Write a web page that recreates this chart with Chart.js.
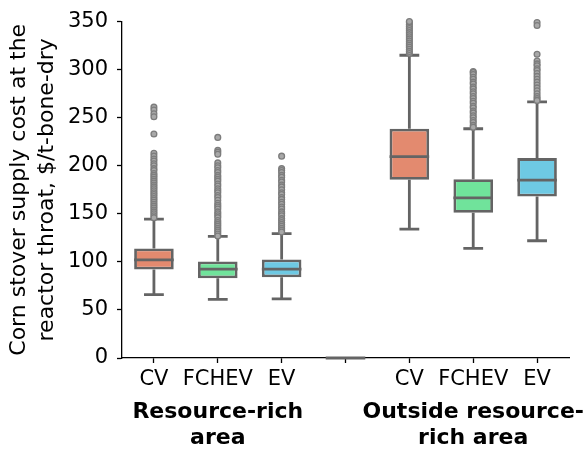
<!DOCTYPE html>
<html>
<head>
<meta charset="utf-8">
<script src="https://cdn.jsdelivr.net/npm/chart.js@4"></script>
<style>
html,body{margin:0;padding:0;background:#fff;}
canvas{display:block;}
</style>
</head>
<body>
<canvas id="c" width="588" height="449"></canvas>
<script>
const categories = ['CV', 'FCHEV', 'EV', '', 'CV', 'FCHEV', 'EV'];
const categoryKeys = ['rich-CV', 'rich-FCHEV', 'rich-EV', 'gap', 'out-CV', 'out-FCHEV', 'out-EV'];
const q1 = [92, 83, 84, 0, 185.5, 151, 168];
const q3 = [114, 100.5, 102.5, 0, 238.5, 186, 208];
const medians = [102, 92.5, 92.5, 0, 209.5, 166.5, 185];
const whiskerLow = [66, 61, 61.5, 0, 134, 114, 122];
const whiskerHigh = [144.5, 126.5, 129.5, 0, 315, 238.5, 266.5];
const outliers0 = [261, 258, 254, 251, 233, 213, 210, 207, 205, 202, 200, 197, 195, 192, 190, 188, 186, 184, 182, 180, 178, 176, 174, 172, 170, 168, 166, 164, 162, 160, 158, 156, 154, 152, 150, 148, 146];
const outliers1 = [229.5, 216, 214, 212, 203, 200, 198, 195, 193, 190, 188, 186, 184, 181, 179, 176, 174, 172, 169, 167, 164, 161, 159, 157, 155, 152, 150, 148, 146, 143, 141, 139, 137, 135, 133, 131, 129, 127];
const outliers2 = [210, 197, 195, 193, 190, 188, 185, 183, 180, 178, 175, 172, 170, 167, 165, 162, 160, 157, 155, 152, 150, 148, 145, 143, 141, 139, 137, 135, 133, 131];
const outliers3 = [];
const outliers4 = [317, 319, 321, 323, 325, 327, 329, 331, 333, 335, 337, 339, 341, 343, 345, 347, 349, 350];
const outliers5 = [298, 297, 295, 292, 290, 287, 285, 282, 280, 277, 275, 272, 270, 267, 265, 262, 260, 257, 255, 252, 250, 247, 245, 242, 240];
const outliers6 = [349, 346, 316, 309, 306, 304, 301, 299, 296, 293, 290, 287, 284, 281, 278, 275, 272, 270, 268];
const outlierLists = [outliers0, outliers1, outliers2, outliers3, outliers4, outliers5, outliers6];
const boxColors = ['#e38a6f', '#70e39b', '#6ec9e3', '#ffffff', '#e38a6f', '#70e39b', '#6ec9e3'];
const groupLabels = [['Resource-rich', 'area'], ['Outside resource-', 'rich area']];
const groupSpans = [[0, 2], [4, 6]];
const yTitle = ['Corn stover supply cost at the', 'reactor throat, $/t-bone-dry'];

const LINE = '#646464';
const LW = 2.8;
const FONT = 'DejaVu Sans';

const boxData = q1.map((v, i) => [v, q3[i]]);
const outlierData = [];
outlierLists.forEach((list, i) => list.forEach(v => outlierData.push({x: categoryKeys[i], y: v})));

const boxPlugin = {
  id: 'boxParts',
  beforeDatasetsDraw(chart) {
    const ctx = chart.ctx;
    const y = chart.scales.y;
    const meta = chart.getDatasetMeta(0);
    ctx.save();
    ctx.strokeStyle = LINE;
    ctx.lineWidth = LW;
    meta.data.forEach((bar, i) => {
      if (q3[i] === q1[i]) return;
      const cx = bar.x;
      const cap = bar.width * 0.5;
      ctx.beginPath();
      ctx.moveTo(cx, y.getPixelForValue(whiskerLow[i]));
      ctx.lineTo(cx, y.getPixelForValue(q1[i]));
      ctx.moveTo(cx, y.getPixelForValue(q3[i]));
      ctx.lineTo(cx, y.getPixelForValue(whiskerHigh[i]));
      ctx.moveTo(cx - cap / 2, y.getPixelForValue(whiskerLow[i]));
      ctx.lineTo(cx + cap / 2, y.getPixelForValue(whiskerLow[i]));
      ctx.moveTo(cx - cap / 2, y.getPixelForValue(whiskerHigh[i]));
      ctx.lineTo(cx + cap / 2, y.getPixelForValue(whiskerHigh[i]));
      ctx.stroke();
    });
    ctx.restore();
  },
  afterDatasetsDraw(chart) {
    const ctx = chart.ctx;
    const y = chart.scales.y;
    const meta = chart.getDatasetMeta(0);
    ctx.save();
    ctx.strokeStyle = LINE;
    ctx.lineWidth = LW;
    meta.data.forEach((bar, i) => {
      const py = y.getPixelForValue(medians[i]);
      ctx.beginPath();
      ctx.moveTo(bar.x - bar.width / 2, py);
      ctx.lineTo(bar.x + bar.width / 2, py);
      ctx.stroke();
    });
    ctx.restore();
  },
  afterDraw(chart) {
    const ctx = chart.ctx;
    const x = chart.scales.x;
    ctx.save();
    ctx.fillStyle = '#000';
    ctx.font = 'bold 22px ' + FONT;
    ctx.textAlign = 'center';
    ctx.textBaseline = 'alphabetic';
    groupLabels.forEach((lines, g) => {
      const cx = (x.getPixelForValue(groupSpans[g][0]) + x.getPixelForValue(groupSpans[g][1])) / 2;
      lines.forEach((t, k) => ctx.fillText(t, cx, 418 + k * 26));
    });
    ctx.restore();
  }
};

new Chart(document.getElementById('c'), {
  type: 'bar',
  data: {
    labels: categoryKeys,
    datasets: [
      {
        type: 'bar',
        data: boxData,
        backgroundColor: boxColors,
        borderColor: LINE,
        borderWidth: LW,
        borderSkipped: false,
        grouped: false,
        barPercentage: 0.62,
        categoryPercentage: 1,
        order: 2
      },
      {
        type: 'line',
        data: outlierData,
        showLine: false,
        pointRadius: 2.9,
        pointBackgroundColor: '#a8a8a8',
        pointBorderColor: '#7c7c7c',
        pointBorderWidth: 1.3,
        clip: 4,
        order: 1
      }
    ]
  },
  options: {
    responsive: false,
    animation: false,
    devicePixelRatio: 1,
    layout: {padding: {top: 20, right: 19, left: 0, bottom: 0}},
    plugins: {legend: {display: false}, tooltip: {enabled: false}},
    scales: {
      x: {
        type: 'category',
        offset: true,
        grid: {display: true, offset: false, drawOnChartArea: false, tickLength: 5, tickColor: '#000', tickWidth: 1.3},
        border: {color: '#000', width: 1.3},
        ticks: {
          font: {family: FONT, size: 21}, color: '#000', padding: 4, maxRotation: 0, autoSkip: false,
          callback: (value, index) => categories[index]
        },
        afterFit(s) { s.height = 91; }
      },
      y: {
        min: 0,
        max: 350,
        grid: {display: true, drawOnChartArea: false, tickLength: 5, tickColor: '#000', tickWidth: 1.3},
        border: {color: '#000', width: 1.3},
        ticks: {stepSize: 50, font: {family: FONT, size: 21}, color: '#000', padding: 9},
        title: {display: true, text: yTitle, font: {family: FONT, size: 22, lineHeight: 1.27}, color: '#000', padding: {top: 5, bottom: 0}},
        afterFit(s) { s.width = 122; }
      }
    }
  },
  plugins: [boxPlugin]
});
</script>
</body>
</html>
